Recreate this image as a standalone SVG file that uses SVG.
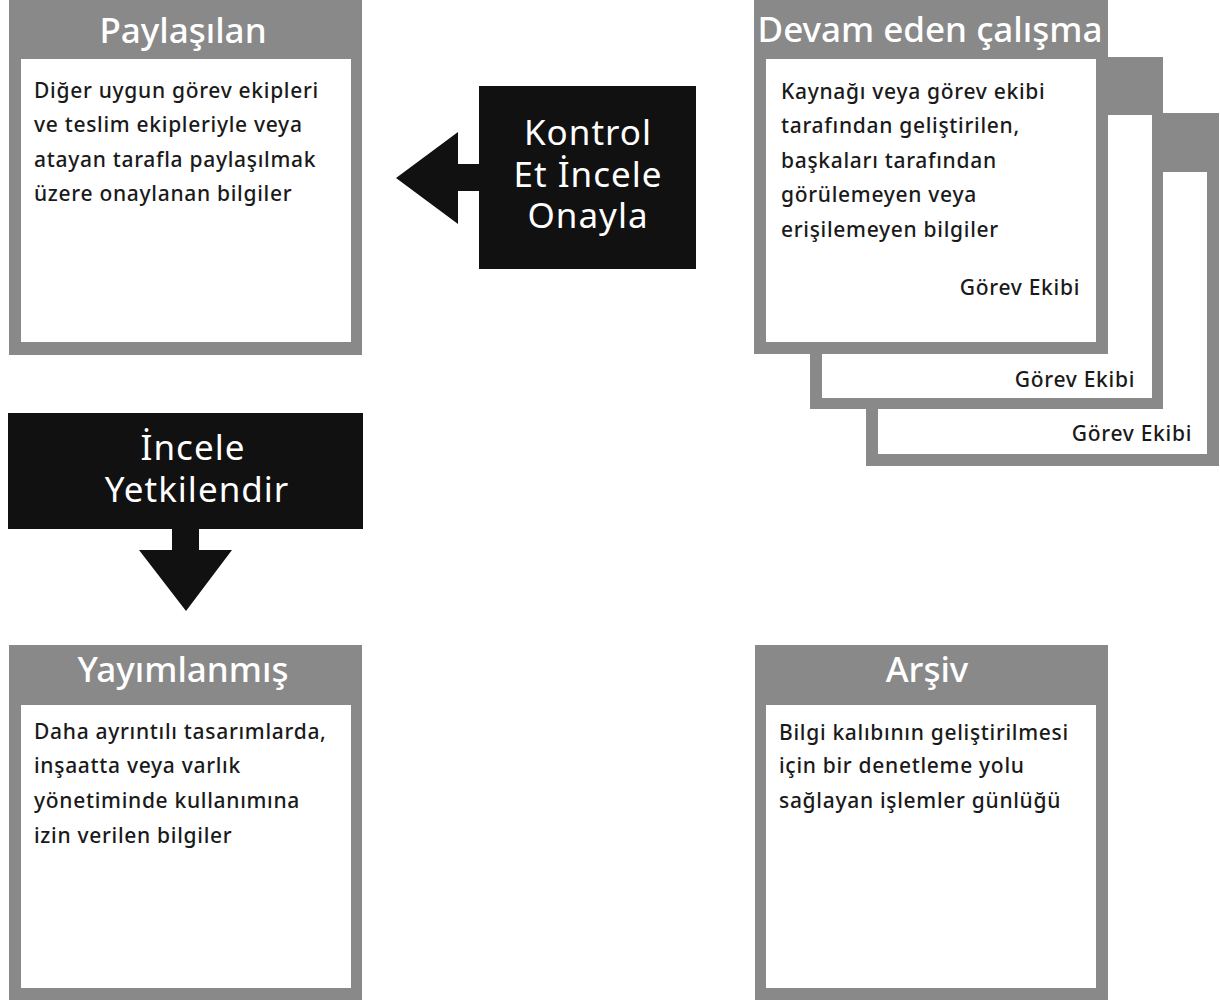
<svg xmlns="http://www.w3.org/2000/svg" width="1220" height="1000" viewBox="0 0 1220 1000">
<style>
.frame{fill:#898989}
.inner{fill:#ffffff}
.title{font-family:"Noto Sans","DejaVu Sans",sans-serif;font-size:35px;fill:#ffffff;text-anchor:middle;font-weight:500}
.body{font-family:"Noto Sans","DejaVu Sans",sans-serif;font-size:21px;fill:#1a1a1a;font-weight:500;letter-spacing:0.7px}
.team{font-family:"Noto Sans","DejaVu Sans",sans-serif;font-size:21px;fill:#1a1a1a;text-anchor:end;font-weight:500;letter-spacing:0.7px}
.act{fill:#111111}
.actText{font-family:"Noto Sans","DejaVu Sans",sans-serif;font-size:35px;fill:#ffffff;text-anchor:middle;letter-spacing:1px}
</style>
<rect width="1220" height="1000" fill="#ffffff"/>
<g id="shared">
<rect class="frame" x="9" y="0" width="353" height="355"/>
<rect class="inner" x="21" y="59" width="330" height="283"/>
<text class="title" x="183" y="43">Paylaşılan</text>
<text class="body" x="34"><tspan x="34" y="98">Diğer uygun görev ekipleri</tspan><tspan x="34" y="132">ve teslim ekipleriyle veya</tspan><tspan x="34" y="167">atayan tarafla paylaşılmak</tspan><tspan x="34" y="201">üzere onaylanan bilgiler</tspan></text>
</g>
<g id="wip3">
<rect class="frame" x="866" y="113" width="353" height="353"/>
<rect class="inner" x="878" y="172" width="329" height="282"/>
<text class="team" x="1192" y="441">Görev Ekibi</text>
</g>
<g id="wip2">
<rect class="frame" x="810" y="57" width="353" height="352"/>
<rect class="inner" x="822" y="115" width="330" height="283"/>
<text class="team" x="1135" y="387">Görev Ekibi</text>
</g>
<g id="wip">
<rect class="frame" x="754" y="0" width="354" height="354"/>
<rect class="inner" x="766" y="59" width="330" height="283"/>
<text class="title" x="930" y="42">Devam eden çalışma</text>
<text class="body"><tspan x="781" y="99">Kaynağı veya görev ekibi</tspan><tspan x="781" y="133">tarafından geliştirilen,</tspan><tspan x="781" y="168">başkaları tarafından</tspan><tspan x="781" y="202">görülemeyen veya</tspan><tspan x="781" y="237">erişilemeyen bilgiler</tspan></text>
<text class="team" x="1080" y="295">Görev Ekibi</text>
</g>
<g id="published">
<rect class="frame" x="9" y="645" width="353" height="355"/>
<rect class="inner" x="21" y="705" width="330" height="283"/>
<text class="title" x="183" y="682">Yayımlanmış</text>
<text class="body"><tspan x="34" y="739">Daha ayrıntılı tasarımlarda,</tspan><tspan x="34" y="773">inşaatta veya varlık</tspan><tspan x="34" y="808">yönetiminde kullanımına</tspan><tspan x="34" y="843">izin verilen bilgiler</tspan></text>
</g>
<g id="archive">
<rect class="frame" x="755" y="645" width="353" height="355"/>
<rect class="inner" x="766" y="705" width="330" height="283"/>
<text class="title" x="927" y="682">Arşiv</text>
<text class="body"><tspan x="779" y="740">Bilgi kalıbının geliştirilmesi</tspan><tspan x="779" y="773">için bir denetleme yolu</tspan><tspan x="779" y="808">sağlayan işlemler günlüğü</tspan></text>
</g>
<g id="connectors">
<g id="check-review-approve">
<rect class="act" x="479" y="86" width="217" height="183"/>
<polygon class="act" points="480,164 458,164 458,132 396,178 458,224 458,191 480,191"/>
<text class="actText"><tspan x="588" y="145">Kontrol</tspan><tspan x="588" y="187">Et İncele</tspan><tspan x="588" y="228">Onayla</tspan></text>
</g>
<g id="review-authorize">
<rect class="act" x="8" y="413" width="355" height="116"/>
<polygon class="act" points="172,528 199,528 199,550 232,550 186,611 139,550 172,550"/>
<text class="actText"><tspan x="193" y="460">İncele</tspan><tspan x="197" y="502">Yetkilendir</tspan></text>
</g>
</g>
</svg>
